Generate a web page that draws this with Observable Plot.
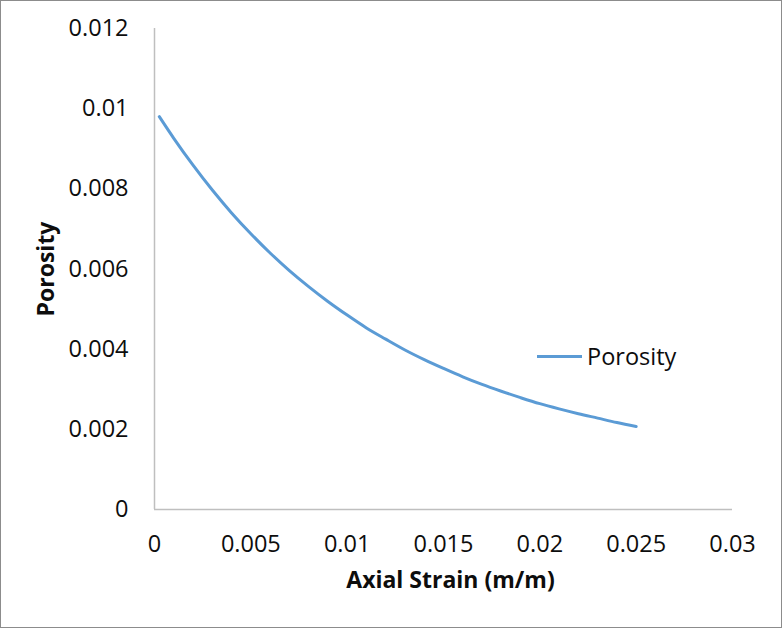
<!DOCTYPE html>
<html>
<head>
<meta charset="utf-8">
<script src="https://cdn.jsdelivr.net/npm/d3@7"></script>
<script src="https://cdn.jsdelivr.net/npm/@observablehq/plot@0.6"></script>
<style>
  html, body { margin: 0; padding: 0; background: #fff; }
  #wrap { position: relative; width: 782px; height: 628px; box-sizing: border-box; }
  #frame { position: absolute; left: 0; top: 0; width: 782px; height: 628px; box-sizing: border-box; border: 1px solid #8c8c8c; pointer-events: none; }
  #legend { position: absolute; left: 537px; top: 340px; display: flex; align-items: center; font-family: "Open Sans", sans-serif; font-size: 23.5px; color: #0d0d0d; }
  #legend .sw { width: 45px; height: 3px; background: #5B9BD5; margin-right: 5px; }
</style>
</head>
<body>
<div id="wrap"><div id="chart"></div><div id="legend"><span class="sw"></span><span>Porosity</span></div><div id="frame"></div></div>
<script>
const strain = [0.00025, 0.001, 0.002, 0.003, 0.004, 0.005, 0.006, 0.007, 0.008, 0.009, 0.010, 0.011, 0.012, 0.013, 0.014, 0.015, 0.016, 0.017, 0.018, 0.019, 0.020, 0.021, 0.022, 0.023, 0.024, 0.025];
const porosity = [0.0098, 0.00926, 0.00859, 0.00797, 0.00740, 0.00688, 0.00640, 0.00596, 0.00556, 0.00519, 0.00485, 0.00453, 0.00425, 0.00398, 0.00374, 0.00352, 0.00331, 0.00312, 0.00295, 0.00279, 0.00264, 0.00251, 0.00239, 0.00228, 0.00217, 0.00207];
const xTicks = [0, 0.005, 0.01, 0.015, 0.02, 0.025, 0.03];
const yTicks = [0, 0.002, 0.004, 0.006, 0.008, 0.01, 0.012];
const seriesName = "Porosity";
const xTitle = "Axial Strain (m/m)";
const yTitle = "Porosity";

const data = strain.map((s, i) => ({strain: s, porosity: porosity[i]}));
const fmt = d => d === 0 ? "0" : String(d);
const FS = 23.5;

const chart = Plot.plot({
  width: 782,
  height: 628,
  marginLeft: 154,
  marginRight: 50,
  marginTop: 28,
  marginBottom: 119,
  style: {fontFamily: "'Open Sans', sans-serif", fontSize: FS + "px", color: "#0d0d0d", background: "transparent"},
  x: {domain: [0, 0.03], ticks: xTicks, tickFormat: fmt, label: null},
  y: {domain: [0, 0.012], ticks: yTicks, tickFormat: fmt, label: null},
  marks: [
    Plot.axisX({ticks: xTicks, tickFormat: fmt, tickSize: 0, tickPadding: 26, fontSize: FS, label: null}),
    Plot.axisY({ticks: yTicks, tickFormat: fmt, tickSize: 0, tickPadding: 26, fontSize: FS, label: null}),
    Plot.ruleX([0], {stroke: "#bfbfbf", strokeWidth: 1.5}),
    Plot.ruleY([0], {stroke: "#bfbfbf", strokeWidth: 1.5}),
    Plot.line(data, {x: "strain", y: "porosity", stroke: "#5B9BD5", strokeWidth: 3, curve: "monotone-x"}),
    Plot.text([xTitle], {frameAnchor: "bottom", dx: 7, dy: 78, textAnchor: "middle", fontWeight: "bold", fontSize: 23, fill: "#0d0d0d"}),
    Plot.text([yTitle], {frameAnchor: "left", dx: -108, textAnchor: "middle", rotate: -90, fontWeight: "bold", fontSize: 23, fill: "#0d0d0d"})
  ]
});
document.getElementById("chart").appendChild(chart);
</script>
</body>
</html>
